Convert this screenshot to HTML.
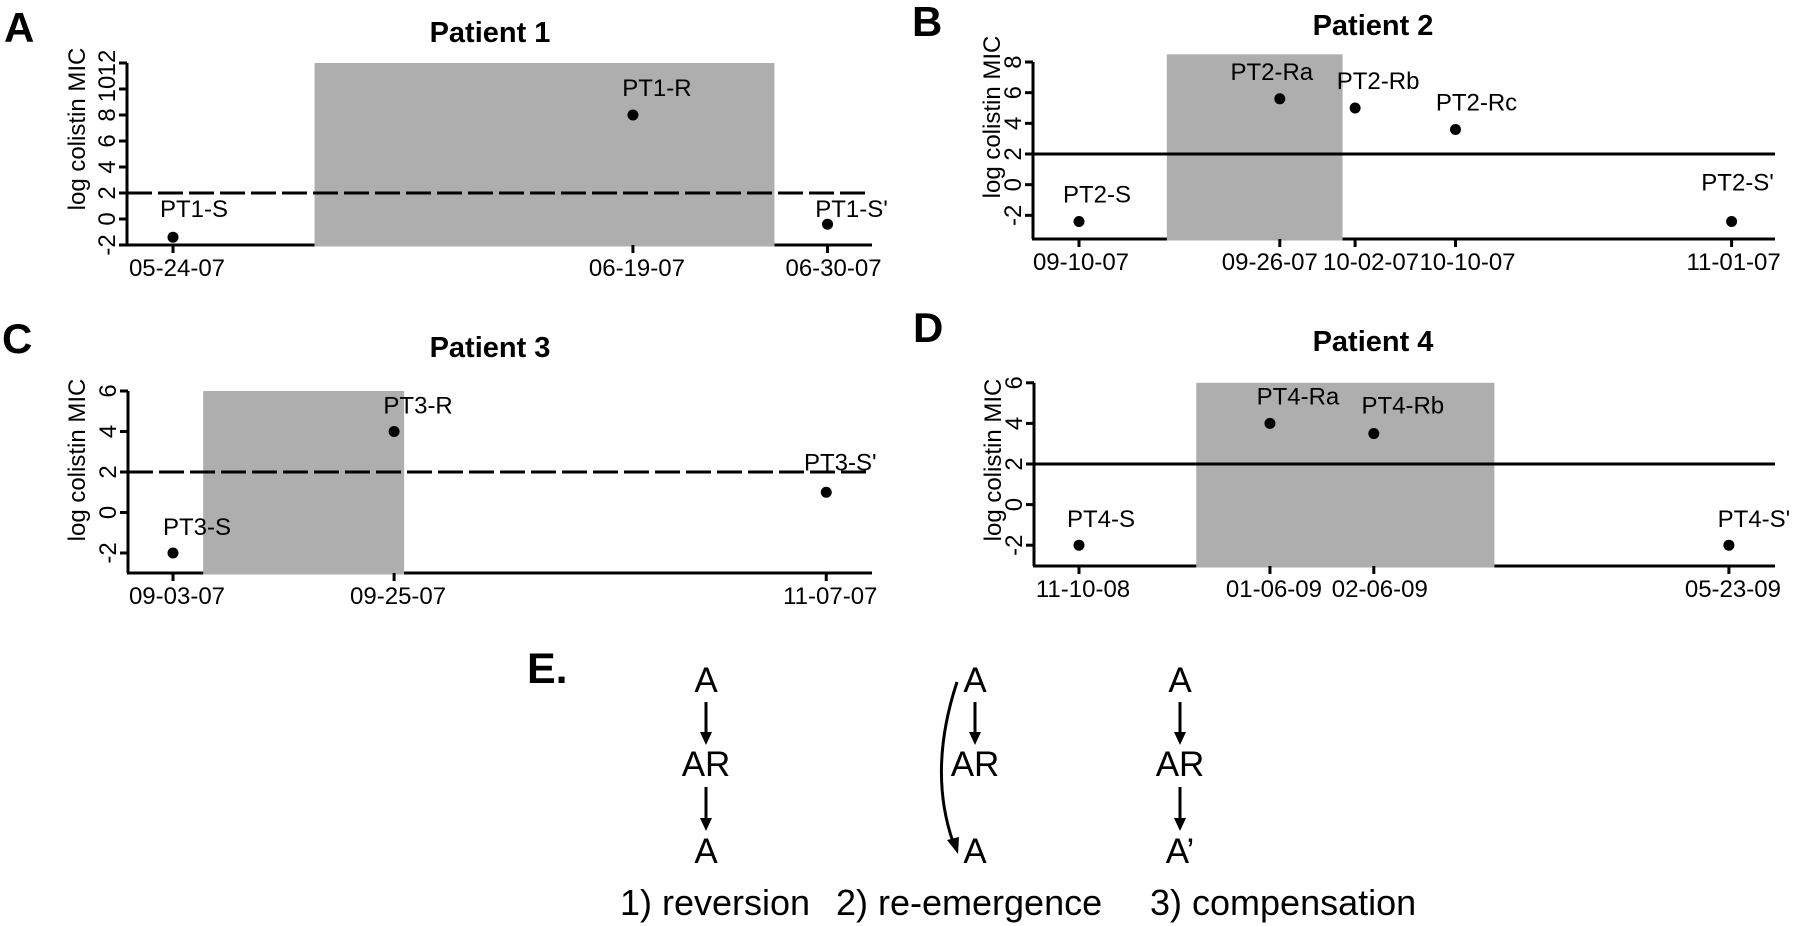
<!DOCTYPE html>
<html><head><meta charset="utf-8"><style>
html,body{margin:0;padding:0;background:#fff;}
svg{display:block;font-family:"Liberation Sans",Arial,sans-serif;}
</style></head><body>
<svg id="fig" width="1800" height="926" viewBox="0 0 1800 926" xmlns="http://www.w3.org/2000/svg">
<g id="panels"></g>
<g id="panel-e">
  <text x="527" y="683" font-size="43" font-weight="bold">E.</text>
  <g font-size="35" text-anchor="middle">
    <text x="706" y="692">A</text>
    <text x="706" y="776">AR</text>
    <text x="706" y="863">A</text>
    <text x="975" y="692">A</text>
    <text x="975" y="776">AR</text>
    <text x="975" y="863">A</text>
    <text x="1180" y="692">A</text>
    <text x="1180" y="776">AR</text>
    <text x="1180" y="863">A’</text>
  </g>
  <g stroke="#000" stroke-width="3" fill="none">
    <line x1="706" y1="702" x2="706" y2="734"/>
    <line x1="706" y1="787" x2="706" y2="820"/>
    <line x1="975" y1="702" x2="975" y2="734"/>
    <line x1="1180" y1="702" x2="1180" y2="734"/>
    <line x1="1180" y1="787" x2="1180" y2="820"/>
    <path d="M957,682 Q928,770 953,842"/>
  </g>
  <g fill="#000">
    <polygon points="700,732 712,732 706,745"/>
    <polygon points="700,818 712,818 706,831"/>
    <polygon points="969,732 981,732 975,745"/>
    <polygon points="1174,732 1186,732 1180,745"/>
    <polygon points="1174,818 1186,818 1180,831"/>
    <polygon points="947,840 959,837 958,854"/>
  </g>
  <g font-size="36">
    <text x="620" y="915">1) reversion</text>
    <text x="836" y="915">2) re-emergence</text>
    <text x="1150" y="915">3) compensation</text>
  </g>
</g>
</svg>
<script>
// ---- data ----
const p1Dates = ["05-24-07","06-19-07","06-30-07"];
const p1Values = [-1.4, 8, -0.4];
const p1Names = ["PT1-S","PT1-R","PT1-S'"];
const p1Shade = ["06-01-07","06-27-07"];
const p1Ticks = [-2,0,2,4,6,8,10,12];

const p2Dates = ["09-10-07","09-26-07","10-02-07","10-10-07","11-01-07"];
const p2Values = [-2.4, 5.6, 5.0, 3.6, -2.4];
const p2Names = ["PT2-S","PT2-Ra","PT2-Rb","PT2-Rc","PT2-S'"];
const p2Shade = ["09-17-07","10-01-07"];
const p2Ticks = [-2,0,2,4,6,8];

const p3Dates = ["09-03-07","09-25-07","11-07-07"];
const p3Values = [-2, 4, 1];
const p3Names = ["PT3-S","PT3-R","PT3-S'"];
const p3Shade = ["09-06-07","09-26-07"];
const p3Ticks = [-2,0,2,4,6];

const p4Dates = ["11-10-08","01-06-09","02-06-09","05-23-09"];
const p4Values = [-2, 4, 3.5, -2];
const p4Names = ["PT4-S","PT4-Ra","PT4-Rb","PT4-S'"];
const p4Shade = ["12-15-08","03-14-09"];
const p4Ticks = [-2,0,2,4,6];

const breakpoint = 2;

// ---- layout (not data) ----
const NS = "http://www.w3.org/2000/svg";
const root = document.getElementById('panels');
function mk(tag, attrs, parent, txt){
  const e = document.createElementNS(NS, tag);
  for (const k in attrs) e.setAttribute(k, attrs[k]);
  if (txt !== undefined) e.textContent = txt;
  parent.appendChild(e);
  return e;
}
function dayNum(s){
  const [m,d,y] = s.split('-').map(Number);
  return Date.UTC(2000+y, m-1, d)/86400000;
}
const panels = [
  {key:'a', letter:'A', lx:4, ly:42, title:'Patient 1', tx:490, ty:42, axisX:127, x0:173, ppd:17.69, y2:193, ppu:13, vTop:12, bottom:245, right:872, lineEnd:869, dashed:true,
   dates:p1Dates, values:p1Values, names:p1Names, shade:p1Shade, ticks:p1Ticks, shadeTop:12, ylabX:85, ylabY:129,
   off:[[21,-20],[24,-19],[24,-7]], ddx:[4,4,6]},
  {key:'b', letter:'B', lx:912, ly:36, title:'Patient 2', tx:1373, ty:35, axisX:1033, x0:1079, ppd:12.55, y2:154, ppu:15.33, vTop:8, bottom:239, right:1775, lineEnd:1775, dashed:false,
   dates:p2Dates, values:p2Values, names:p2Names, shade:p2Shade, ticks:p2Ticks, shadeTop:8.5, ylabX:1000, ylabY:117,
   off:[[18,-19],[-8,-19],[23,-19],[21,-19],[6,-31]], ddx:[2,-10,16,12,2]},
  {key:'c', letter:'C', lx:2, ly:353, title:'Patient 3', tx:490, ty:357, axisX:128, x0:173, ppd:10.05, y2:472, ppu:20.25, vTop:6, bottom:573, right:872, lineEnd:869, dashed:true,
   dates:p3Dates, values:p3Values, names:p3Names, shade:p3Shade, ticks:p3Ticks, shadeTop:6, ylabX:85, ylabY:460,
   off:[[24,-18],[24,-18],[14,-22]], ddx:[4,4,4]},
  {key:'d', letter:'D', lx:913, ly:342, title:'Patient 4', tx:1373, ty:351, axisX:1034, x0:1079, ppd:3.35, y2:464, ppu:20.3, vTop:6, bottom:566, right:1775, lineEnd:1775, dashed:false,
   dates:p4Dates, values:p4Values, names:p4Names, shade:p4Shade, ticks:p4Ticks, shadeTop:6, ylabX:1001, ylabY:460,
   off:[[22,-18],[28,-19],[29,-20],[25,-18]], ddx:[4,4,6,4]}
];

panels.forEach(p => {
  const g = mk('g', {}, root);
  
  
  const d0 = dayNum(p.dates[0]);
  const X = s => p.x0 + (dayNum(s) - d0) * p.ppd;
  const yy = v => p.y2 - (v - 2) * p.ppu;

  const letter = mk('text', {x:p.lx, y:p.ly, 'font-size':42, 'font-weight':'bold'}, g, p.letter);
  
  
  const title = mk('text', {x:p.tx, y:p.ty, 'font-size':29, 'font-weight':'bold', 'text-anchor':'middle'}, g, p.title);
  
  

  const yTopPx = yy(p.vTop);
  const yax = mk('line', {x1:p.axisX, y1:yTopPx, x2:p.axisX, y2:p.bottom, stroke:'#000', 'stroke-width':3}, g);
  
  
  p.ticks.forEach(t => {
    const ty = yy(t);
    const tk = mk('line', {x1:p.axisX-8, y1:ty, x2:p.axisX, y2:ty, stroke:'#000', 'stroke-width':3}, g);
    
    
    const lb = mk('text', {x:0, y:0, 'font-size':24, 'text-anchor':'middle', transform:`translate(${p.axisX-12},${ty}) rotate(-90)`}, g, String(t));
    
    
  });
  const yl = mk('text', {x:0, y:0, 'font-size':24, 'text-anchor':'middle', transform:`translate(${p.ylabX},${p.ylabY}) rotate(-90)`}, g, 'log colistin MIC');
  
  

  const xax = mk('line', {x1:p.axisX-1, y1:p.bottom, x2:p.right, y2:p.bottom, stroke:'#000', 'stroke-width':3}, g);
  
  

  const sx1 = X(p.shade[0]), sx2 = X(p.shade[1]), sy = yy(p.shadeTop);
  const sh = mk('rect', {x:sx1, y:sy, width:sx2-sx1, height:p.bottom-sy+1.5, fill:'#aeaeae'}, g);
  
  

  const by = yy(breakpoint);
  const bl = mk('line', {x1:p.axisX, y1:by, x2:p.lineEnd, y2:by, stroke:'#000', 'stroke-width':3}, g);
  if (p.dashed) bl.setAttribute('stroke-dasharray', '25 6');
  
  

  p.dates.forEach((d, i) => {
    const x = X(d);
    const tk = mk('line', {x1:x, y1:p.bottom, x2:x, y2:p.bottom+8, stroke:'#000', 'stroke-width':3}, g);
    
    
    const lb = mk('text', {x:x + p.ddx[i], y:p.bottom+31, 'font-size':24, 'text-anchor':'middle'}, g, d);
    
    
  });

  p.values.forEach((v, i) => {
    const x = X(p.dates[i]), y = yy(v);
    const c = mk('circle', {cx:x, cy:y, r:5.5, fill:'#000'}, g);
    
    
    const o = p.off[i];
    const t = mk('text', {x:x+o[0], y:y+o[1], 'font-size':24, 'text-anchor':'middle'}, g, p.names[i]);
    
    
  });
});
</script>
</body></html>
